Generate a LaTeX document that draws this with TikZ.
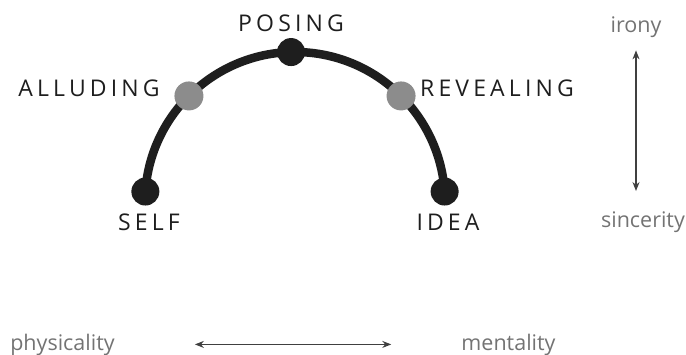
\documentclass[tikz,border=0pt]{standalone}
\usepackage{fontspec}
\setmainfont{Open Sans}
\newfontfamily\stagefont[LetterSpace=18]{Open Sans}
\usetikzlibrary{arrows.meta,positioning}
\definecolor{arcblack}{RGB}{30,30,30}
\definecolor{dotgray}{RGB}{140,140,140}
\definecolor{polegray}{RGB}{115,115,115}

\begin{document}
\begin{tikzpicture}[x=1pt,y=1pt,
    stage/.style={font=\stagefont\fontsize{23}{23}\selectfont, text=arcblack, inner sep=0},
    pole/.style={font=\fontsize{21.5}{21.5}\selectfont, text=polegray, inner sep=0},
    enddot/.style={circle, fill=arcblack, minimum size=28pt, inner sep=0},
    middot/.style={circle, fill=dotgray, minimum size=29pt, inner sep=0},
    axis/.style={{Stealth[length=9pt,width=7pt]}-{Stealth[length=9pt,width=7pt]}, line width=1.2pt, draw=arcblack!85}]
  \useasboundingbox (0,0) rectangle (686,354);
  \coordinate (c) at (295,152);

  % the arc
  \draw[line width=8.5pt, arcblack] ([shift={(176:150)}]c) arc (176:4:150);

  % dots on the arc
  \node[enddot] (self) at ([shift={(176:150)}]c) {};
  \node[middot] (allude) at ([shift={(135:150)}]c) {};
  \node[enddot] (pose) at ([shift={(91.5:150)}]c) {};
  \node[middot] (reveal) at ([shift={(45:150)}]c) {};
  \node[enddot] (idea) at ([shift={(4:150)}]c) {};

  % stage labels
  \node[stage] (selflbl) at (149,132) {SELF};
  \node[stage] (alludelbl) at (89,266) {ALLUDING};
  \node[stage] (poselbl) at (291,331) {POSING};
  \node[stage] (reveallbl) at (497,266) {REVEALING};
  \node[stage] (idealbl) at (448,132) {IDEA};

  % poles
  \node[pole, anchor=base] (irony) at (636,321) {irony};
  \node[pole, anchor=base] (sincerity) at (643,127) {sincerity};
  \node[pole, anchor=base] (physicality) at (62.5,4) {physicality};
  \node[pole, anchor=base] (mentality) at (508.5,4) {mentality};

  \draw[axis, shorten <=12pt, shorten >=20pt] (irony.south) -- (irony.south |- sincerity.north);
  \draw[axis, shorten <=80pt, shorten >=70pt] (physicality) -- (mentality);
\end{tikzpicture}
\end{document}
